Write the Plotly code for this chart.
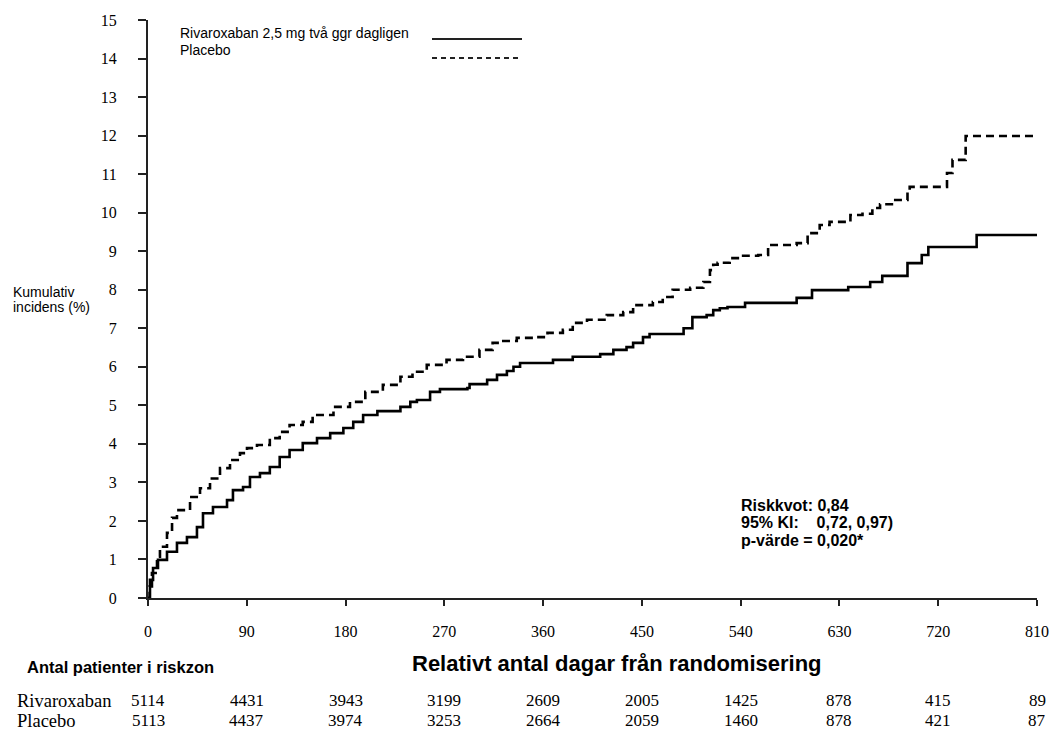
import plotly.graph_objects as go

# ---- data ----
riva_days = [0, 1.8, 4.6, 9.1, 17.3, 26.4, 35.5, 44.6, 50.1, 59.2, 72.0, 77.4, 86.6, 92.9, 102, 111, 120, 129,
             141, 154, 166, 178, 187, 196, 209, 230, 239, 245, 257, 266, 291, 293, 309, 318, 327, 333, 339,
             369, 387, 412, 424, 436, 442, 451, 457, 488, 496, 509, 515, 521, 528, 544, 591, 605, 638,
             658, 669, 692, 705, 711, 755, 810]
riva_vals = [0, 0.47, 0.78, 0.99, 1.2, 1.43, 1.58, 1.84, 2.2, 2.36, 2.54, 2.8, 2.88, 3.14, 3.24, 3.4, 3.66, 3.84,
             4.02, 4.15, 4.28, 4.41, 4.57, 4.75, 4.85, 4.96, 5.09, 5.14, 5.35, 5.42, 5.45, 5.55, 5.66, 5.79, 5.89, 6.0,
             6.1, 6.18, 6.26, 6.33, 6.44, 6.51, 6.62, 6.77, 6.85, 7.0, 7.29, 7.34, 7.47, 7.52, 7.55, 7.66, 7.79,
             7.99, 8.07, 8.2, 8.36, 8.69, 8.9, 9.11, 9.42, 9.42]

plac_days = [0, 1.5, 3.6, 8.2, 10.9, 17.3, 21.9, 26.4, 38.3, 47.4, 56.5, 65.6, 74.7, 83.8, 90.2, 99.3, 111, 120,
             129, 141, 150, 169, 184, 198, 214, 230, 241, 254, 272, 287, 302, 314, 321, 336, 354, 364, 378,
             387, 400, 418, 433, 442, 460, 469, 478, 494, 506, 512, 515, 519, 530, 539, 556, 565, 591, 601,
             612, 621, 640, 651, 660, 667, 679, 692, 694, 728, 733, 745, 810]
plac_vals = [0, 0.3, 0.65, 1.07, 1.33, 1.69, 2.08, 2.28, 2.62, 2.85, 3.1, 3.37, 3.58, 3.76, 3.89, 3.97, 4.15, 4.31,
             4.49, 4.57, 4.75, 4.96, 5.09, 5.35, 5.53, 5.74, 5.87, 6.05, 6.18, 6.26, 6.44, 6.62, 6.67, 6.75, 6.77,
             6.88, 6.96, 7.14, 7.22, 7.34, 7.42, 7.6, 7.68, 7.81, 8.0, 8.05, 8.2, 8.51, 8.65, 8.7, 8.82, 8.88,
             8.9, 9.16, 9.21, 9.47, 9.68, 9.76, 9.94, 9.97, 10.12, 10.22, 10.33, 10.54, 10.67, 11.03, 11.37,
             11.99, 11.99]

x_ticks = [0, 90, 180, 270, 360, 450, 540, 630, 720, 810]
y_ticks = list(range(0, 16))

risk_days = [0, 90, 180, 270, 360, 450, 540, 630, 720, 810]
risk_riva = [5114, 4431, 3943, 3199, 2609, 2005, 1425, 878, 415, 89]
risk_plac = [5113, 4437, 3974, 3253, 2664, 2059, 1460, 878, 421, 87]
risk_groups = ["Rivaroxaban", "Placebo"]

legend_labels = ["Rivaroxaban 2,5 mg två ggr dagligen", "Placebo"]
y_title_lines = ["Kumulativ", "incidens (%)"]
x_title = "Relativt antal dagar från randomisering"
risk_title = "Antal patienter i riskzon"
stats_lines = ["Riskkvot: 0,84", "95% KI:    0,72, 0,97)", "p-värde = 0,020*"]

# ---- layout geometry ----
W, H = 1052, 731
ML, MR, MT, MB = 148, 15, 20, 133
PH = H - MT - MB
PW = W - ML - MR


def py(pixel_y):
    return (H - MB - pixel_y) / PH


def px(pixel_x):
    return (pixel_x - ML) / PW


SERIF = "Liberation Serif, Times New Roman, serif"
SANS = "Liberation Sans, Arial, sans-serif"

fig = go.Figure()
fig.add_trace(go.Scatter(x=riva_days, y=riva_vals, mode="lines", line_shape="hv",
                         line=dict(color="black", width=2.6), name=legend_labels[0],
                         showlegend=False))
fig.add_trace(go.Scatter(x=plac_days, y=plac_vals, mode="lines", line_shape="hv",
                         line=dict(color="black", width=2.6, dash="8px,5px"), name=legend_labels[1],
                         showlegend=False))

annotations = []


def txt(x, y, text, family, size, xanchor="left", xref="paper"):
    annotations.append(dict(xref=xref, yref="paper", x=x, y=y, text=text, showarrow=False,
                            xanchor=xanchor, yanchor="middle", align="left", borderpad=0,
                            font=dict(family=family, size=size, color="black")))


# legend text
txt(px(179), py(33), legend_labels[0], SANS, 14)
txt(px(179), py(50), legend_labels[1], SANS, 14)

# y-axis title
txt(px(12), py(292), y_title_lines[0], SANS, 14)
txt(px(12), py(307), y_title_lines[1], SANS, 14)

# x-axis title
txt(px(617), py(663), "<b>" + x_title + "</b>", SANS, 22, xanchor="center")

# risk table
txt(px(26), py(667), "<b>" + risk_title + "</b>", SANS, 16.5)
txt(px(16), py(700.5), risk_groups[0], SERIF, 18.5)
txt(px(16), py(720.5), risk_groups[1], SERIF, 18.5)
for d, a, b in zip(risk_days, risk_riva, risk_plac):
    txt(d, py(700.5), str(a), SERIF, 17, xanchor="center", xref="x")
    txt(d, py(720.5), str(b), SERIF, 17, xanchor="center", xref="x")

# stats box
for i, line in enumerate(stats_lines):
    txt(px(740), py(505 + 17.8 * i), "<b>" + line.replace("    ", "&nbsp;&nbsp;&nbsp;&nbsp;") + "</b>",
        SANS, 16)

shapes = [
    dict(type="line", xref="paper", yref="paper", x0=px(432), x1=px(522), y0=py(39), y1=py(39),
         line=dict(color="#222", width=1.8)),
    dict(type="line", xref="paper", yref="paper", x0=px(432), x1=px(522), y0=py(58), y1=py(58),
         line=dict(color="#222", width=1.8, dash="5px,4px")),
]

fig.update_layout(
    width=W, height=H,
    margin=dict(l=ML, r=MR, t=MT, b=MB, autoexpand=False),
    paper_bgcolor="white", plot_bgcolor="white",
    annotations=annotations, shapes=shapes,
    showlegend=False,
)
fig.update_xaxes(range=[0, 810], tickvals=x_ticks, ticktext=[str(t) for t in x_ticks],
                 showgrid=False, zeroline=False, showline=True, linecolor="#222", linewidth=2,
                 ticks="outside", ticklen=6, tickwidth=1.5, tickcolor="#222",
                 ticklabelstandoff=12, automargin=False,
                 tickfont=dict(family=SERIF, size=16, color="black"))
fig.update_yaxes(range=[0, 15], tickvals=y_ticks, ticktext=[str(t) for t in y_ticks],
                 showgrid=False, zeroline=False, showline=True, linecolor="#222", linewidth=2,
                 ticks="outside", ticklen=8, tickwidth=1.5, tickcolor="#222",
                 ticklabelstandoff=18, automargin=False,
                 tickfont=dict(family=SERIF, size=16, color="black"))

fig.write_html("out.html", config={"displayModeBar": False},
               post_script="document.body.style.margin='0';document.body.style.overflow='hidden';")
